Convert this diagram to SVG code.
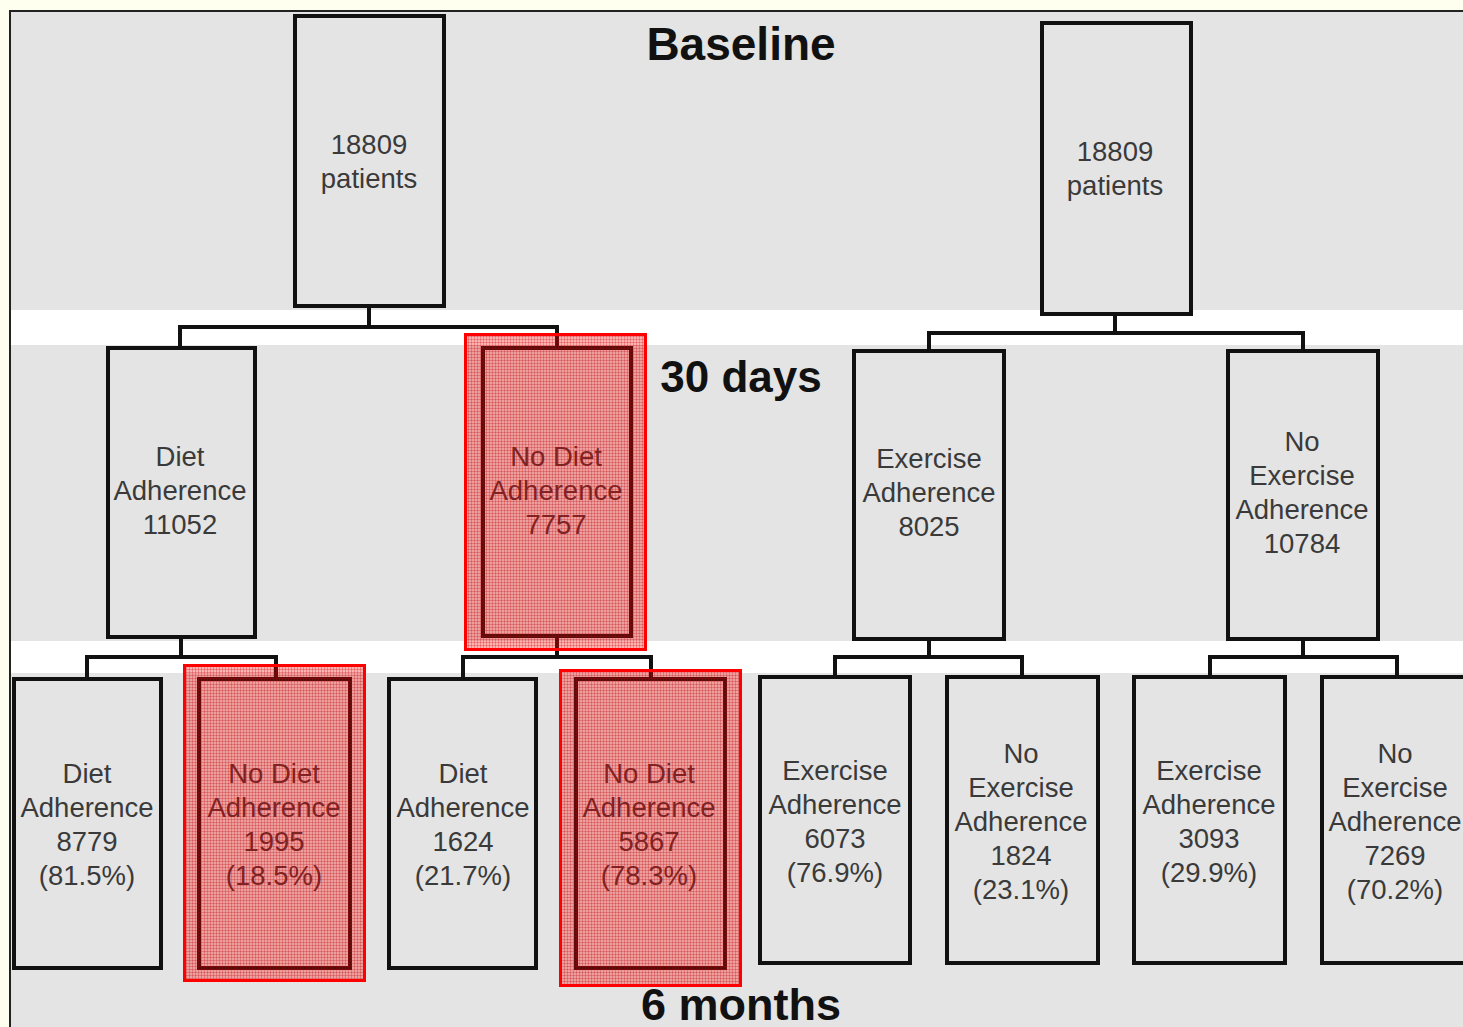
<svg xmlns="http://www.w3.org/2000/svg" width="1463" height="1027" viewBox="0 0 1463 1027">
<style>
.box{fill:#e4e4e4;stroke:#111;stroke-width:4}
.t{font-family:"Liberation Sans",Arial,sans-serif;font-size:27.5px;fill:#3a3a3a;text-anchor:middle}
.h{font-family:"Liberation Sans",Arial,sans-serif;font-weight:bold;fill:#111;text-anchor:middle}
.hl{fill:url(#mesh);stroke:#ff0000;stroke-width:3}
.c{fill:none;stroke:#111;stroke-width:4;stroke-linejoin:miter}
</style>
<defs>
<pattern id="mesh" width="3" height="3" patternUnits="userSpaceOnUse">
<rect width="3" height="3" fill="#ff0000" fill-opacity="0.3"/>
<rect width="3" height="1" fill="#c00000" fill-opacity="0.25"/>
<rect width="1" height="3" fill="#c00000" fill-opacity="0.25"/>
</pattern>
</defs>
<rect x="0" y="0" width="1463" height="1027" fill="#fffff0"/>
<rect x="10" y="11" width="1453" height="1016" fill="#ffffff"/>
<rect x="11" y="12" width="1452" height="298" fill="#e4e4e4"/>
<rect x="11" y="345" width="1452" height="296" fill="#e4e4e4"/>
<rect x="11" y="673" width="1452" height="354" fill="#e4e4e4"/>
<path d="M10 1027 V11 H1463" fill="none" stroke="#222" stroke-width="2"/>
<text class="h" x="741" y="60" font-size="46">Baseline</text>
<text class="h" x="741" y="392" font-size="44">30 days</text>
<text class="h" x="741" y="1020" font-size="45">6 months</text>
<g id="connectors">
<path class="c" d="M369 308 V327 M180 346 V327 H557 V346"/>
<path class="c" d="M1115 316 V333 M929 349 V333 H1303 V349"/>
<path class="c" d="M181 639 V657 M87 677 V657 H276 V677"/>
<path class="c" d="M557 638 V657 M463 677 V657 H651 V677"/>
<path class="c" d="M929 641 V657 M835 675 V657 H1022 V675"/>
<path class="c" d="M1303 641 V657 M1210 675 V657 H1397 V675"/>
</g>
<g id="n-base-diet"><rect class="box" x="295" y="16" width="149" height="290"/><text class="t" x="369" y="154">18809</text><text class="t" x="369" y="188">patients</text></g>
<g id="n-base-ex"><rect class="box" x="1042" y="23" width="149" height="291"/><text class="t" x="1115" y="161">18809</text><text class="t" x="1115" y="195">patients</text></g>
<g id="n-diet-30"><rect class="box" x="108" y="348" width="147" height="289"/><text class="t" x="180" y="466">Diet</text><text class="t" x="180" y="500">Adherence</text><text class="t" x="180" y="534">11052</text></g>
<g id="n-nodiet-30"><rect class="box" x="483" y="348" width="148" height="288"/><text class="t" x="556" y="466">No Diet</text><text class="t" x="556" y="500">Adherence</text><text class="t" x="556" y="534">7757</text><rect class="hl" x="465.5" y="334.5" width="180" height="315"/></g>
<g id="n-ex-30"><rect class="box" x="854" y="351" width="150" height="288"/><text class="t" x="929" y="468">Exercise</text><text class="t" x="929" y="502">Adherence</text><text class="t" x="929" y="536">8025</text></g>
<g id="n-noex-30"><rect class="box" x="1228" y="351" width="150" height="288"/><text class="t" x="1302" y="451">No</text><text class="t" x="1302" y="485">Exercise</text><text class="t" x="1302" y="519">Adherence</text><text class="t" x="1302" y="553">10784</text></g>
<g id="n-diet-diet"><rect class="box" x="14" y="679" width="147" height="289"/><text class="t" x="87" y="783">Diet</text><text class="t" x="87" y="817">Adherence</text><text class="t" x="87" y="851">8779</text><text class="t" x="87" y="885">(81.5%)</text></g>
<g id="n-diet-nodiet"><rect class="box" x="199" y="679" width="151" height="289"/><text class="t" x="274" y="783">No Diet</text><text class="t" x="274" y="817">Adherence</text><text class="t" x="274" y="851">1995</text><text class="t" x="274" y="885">(18.5%)</text><rect class="hl" x="184.5" y="665.5" width="180" height="315"/></g>
<g id="n-nodiet-diet"><rect class="box" x="389" y="679" width="147" height="289"/><text class="t" x="463" y="783">Diet</text><text class="t" x="463" y="817">Adherence</text><text class="t" x="463" y="851">1624</text><text class="t" x="463" y="885">(21.7%)</text></g>
<g id="n-nodiet-nodiet"><rect class="box" x="576" y="679" width="149" height="289"/><text class="t" x="649" y="783">No Diet</text><text class="t" x="649" y="817">Adherence</text><text class="t" x="649" y="851">5867</text><text class="t" x="649" y="885">(78.3%)</text><rect class="hl" x="560.5" y="670.5" width="180" height="315"/></g>
<g id="n-ex-ex"><rect class="box" x="760" y="677" width="150" height="286"/><text class="t" x="835" y="780">Exercise</text><text class="t" x="835" y="814">Adherence</text><text class="t" x="835" y="848">6073</text><text class="t" x="835" y="882">(76.9%)</text></g>
<g id="n-ex-noex"><rect class="box" x="947" y="677" width="151" height="286"/><text class="t" x="1021" y="763">No</text><text class="t" x="1021" y="797">Exercise</text><text class="t" x="1021" y="831">Adherence</text><text class="t" x="1021" y="865">1824</text><text class="t" x="1021" y="899">(23.1%)</text></g>
<g id="n-noex-ex"><rect class="box" x="1134" y="677" width="151" height="286"/><text class="t" x="1209" y="780">Exercise</text><text class="t" x="1209" y="814">Adherence</text><text class="t" x="1209" y="848">3093</text><text class="t" x="1209" y="882">(29.9%)</text></g>
<g id="n-noex-noex"><rect class="box" x="1322" y="677" width="151" height="286"/><text class="t" x="1395" y="763">No</text><text class="t" x="1395" y="797">Exercise</text><text class="t" x="1395" y="831">Adherence</text><text class="t" x="1395" y="865">7269</text><text class="t" x="1395" y="899">(70.2%)</text></g>
</svg>
